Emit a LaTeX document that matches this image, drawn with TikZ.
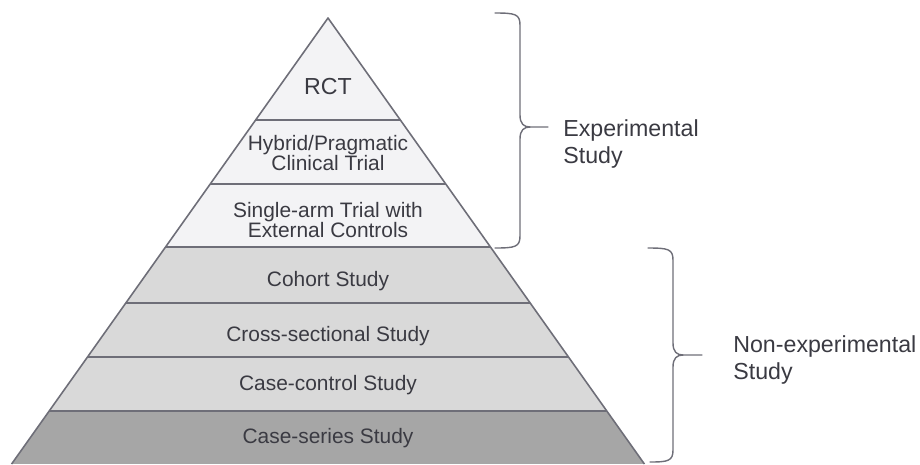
\documentclass[tikz,border=0pt]{standalone}
\usepackage{fontspec}
\setmainfont{Liberation Sans}
\usetikzlibrary{positioning}

\definecolor{topfill}{HTML}{F3F3F5}
\definecolor{midfill}{HTML}{D9D9D9}
\definecolor{lowfill}{HTML}{A6A6A6}
\definecolor{edgegray}{HTML}{6E6E78}
\definecolor{textgray}{HTML}{3A3A42}

\begin{document}
\begin{tikzpicture}[
    x=0.02cm, y=-0.02cm,
    band/.style={font=\fontsize{11.9}{11.6}\selectfont, text=textgray, align=center, inner sep=0pt},
    grouptext/.style={font=\fontsize{13.2}{15.9}\selectfont, text=textgray, align=left, inner sep=0pt, anchor=west},
    divider/.style={draw=edgegray, line width=0.9pt},
    bracket/.style={draw=edgegray, line width=0.8pt, line cap=round, line join=round}
]
\useasboundingbox (0,0) rectangle (920,464);

% pyramid
\coordinate (apex) at (328,18);
\coordinate (bl) at (11.6,464);
\coordinate (br) at (644.4,464);

\begin{scope}
\clip (apex) -- (bl) -- (br) -- cycle;
\fill[topfill] (0,0) rectangle (920,247);
\fill[midfill] (0,247) rectangle (920,411);
\fill[lowfill] (0,411) rectangle (920,464);
\foreach \y in {120,184,247,303,357,411}
    \draw[divider] (0,\y) -- (920,\y);
\end{scope}
\draw[divider, line join=round] (bl) -- (apex) -- (br);

% levels
\node[band, font=\fontsize{13.2}{15}\selectfont] (rct) at (328,87) {RCT};
\node[band] (hybrid) at (328,153) {Hybrid/Pragmatic\\Clinical Trial};
\node[band] (singlearm) at (328,220) {Single-arm Trial with\\External Controls};
\node[band] (cohort) at (328,281) {Cohort Study};
\node[band] (crosssec) at (328,336) {Cross-sectional Study};
\node[band] (casecontrol) at (328,385) {Case-control Study};
\node[band] (caseseries) at (328,438) {Case-series Study};

% braces
\draw[bracket] (495,13) .. controls (515,13) and (520,14) .. (520,25) -- (520,115)
    .. controls (520,124) and (524,127) .. (530,127) -- (548,127);
\draw[bracket] (530,127) .. controls (524,127) and (520,130) .. (520,139) -- (520,236)
    .. controls (520,247) and (515,248) .. (495,248);
\draw[bracket] (648,248) .. controls (668,248) and (673,249) .. (673,260) -- (673,343)
    .. controls (673,352) and (677,355) .. (683,355) -- (702,355);
\draw[bracket] (683,355) .. controls (677,355) and (673,358) .. (673,367) -- (673,450)
    .. controls (673,461) and (668,462) .. (650,462);

\node[grouptext] (expt) at (563,144) {Experimental\\Study};
\node[grouptext] (nonexpt) at (733,360) {Non-experimental\\Study};

\end{tikzpicture}
\end{document}
